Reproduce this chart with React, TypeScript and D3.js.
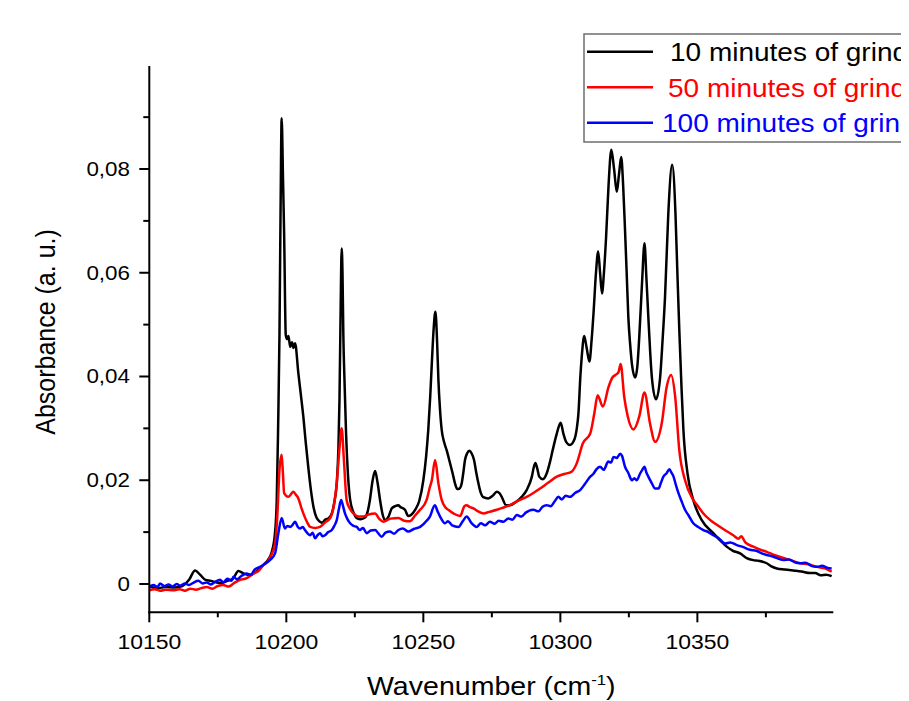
import React from 'react';
import * as d3 from 'd3';

// ---------- data ----------
const xTicksMajor = [10150, 10200, 10250, 10300, 10350];
const xTicksMinor = [10175, 10225, 10275, 10325, 10375];
const yTicksMajor = [0, 0.02, 0.04, 0.06, 0.08];
const yTicksMinor = [0.01, 0.03, 0.05, 0.07, 0.09];
const yTickLabels = ['0', '0,02', '0,04', '0,06', '0,08'];
const seriesNames = ['10 minutes of grinding', '50 minutes of grinding', '100 minutes of grinding'];
const seriesColors = ['#000000', '#ff0000', '#0000ff'];

const black10: [number, number][] = [
  [10150, -0.0005], [10153, -0.0008], [10156, -0.0006], [10159, -0.0007], [10162, -0.0004],
  [10164.5, 0.0008], [10166.7, 0.0026], [10168.5, 0.0018], [10170.5, 0.0008], [10172.5, 0.0006],
  [10174.6, 0.0003], [10176.5, 0.0002], [10178.5, 0.0006], [10180.5, 0.001], [10182.5, 0.0025],
  [10184.5, 0.002], [10186.8, 0.0017], [10189, 0.0024], [10191.6, 0.0037], [10193.5, 0.0048],
  [10194.7, 0.0062], [10195.8, 0.0095], [10196.5, 0.016], [10197.0, 0.03], [10197.5, 0.048],
  [10197.9, 0.072], [10198.3, 0.0898], [10198.8, 0.078], [10199.2, 0.0676], [10199.8, 0.048],
  [10200.3, 0.0472], [10200.8, 0.0478], [10201.4, 0.0457], [10202.1, 0.0466], [10202.6, 0.0455],
  [10203.2, 0.0464], [10204.4, 0.0406], [10205.3, 0.0365], [10206.2, 0.0323], [10207.1, 0.0272],
  [10208, 0.0226], [10209, 0.018], [10209.9, 0.0149], [10211, 0.0128], [10212.3, 0.012],
  [10213.2, 0.0118], [10214.1, 0.0124], [10215.5, 0.0127], [10216.6, 0.0136], [10217.6, 0.016],
  [10218.4, 0.0194], [10219, 0.026], [10219.4, 0.0355], [10219.8, 0.052], [10220.2, 0.0647],
  [10220.5, 0.06], [10220.8, 0.0483], [10221.3, 0.038], [10221.8, 0.029], [10222.5, 0.021],
  [10223.3, 0.0162], [10224.5, 0.0138], [10225.7, 0.0127], [10227.2, 0.0125], [10228.7, 0.0128],
  [10229.7, 0.014], [10230.5, 0.0162], [10231.5, 0.02], [10232.4, 0.0218], [10233.3, 0.0195],
  [10234.2, 0.0162], [10235.1, 0.0135], [10236, 0.0123], [10237.3, 0.013], [10238.5, 0.0146],
  [10239.7, 0.015], [10240.9, 0.0152], [10241.5, 0.0149], [10243.3, 0.0143], [10244.5, 0.0131],
  [10245.5, 0.0133], [10247, 0.0143], [10248.5, 0.016], [10250, 0.02], [10251, 0.0245],
  [10251.8, 0.0297], [10252.5, 0.036], [10253.1, 0.0426], [10253.8, 0.0495], [10254.4, 0.0525],
  [10255, 0.047], [10255.5, 0.0393], [10256.1, 0.0335], [10256.7, 0.0297], [10257.5, 0.0275],
  [10258.5, 0.0258], [10259.6, 0.0236], [10260.7, 0.0213], [10261.5, 0.0195], [10262.4, 0.0183],
  [10263.2, 0.0184], [10264, 0.0194], [10264.6, 0.0215], [10265.2, 0.0239], [10266, 0.0252],
  [10266.8, 0.0257], [10267.6, 0.0252], [10268.5, 0.0239], [10269.3, 0.0215], [10270.1, 0.0194],
  [10271, 0.0175], [10271.7, 0.0168], [10273.7, 0.0165], [10275.3, 0.017], [10276.8, 0.0178],
  [10277.8, 0.0175], [10278.6, 0.0168], [10280.2, 0.0152], [10281.6, 0.0152], [10283.5, 0.0157],
  [10285.9, 0.0168], [10287.7, 0.0181], [10289.6, 0.0207], [10290.3, 0.0225], [10290.9, 0.0233],
  [10291.6, 0.0222], [10292.3, 0.0207], [10293.6, 0.0202], [10295, 0.0213], [10296.2, 0.0235],
  [10297.2, 0.0258], [10298.7, 0.029], [10300.1, 0.0311], [10301.1, 0.029], [10302.1, 0.0274],
  [10303.5, 0.0268], [10305, 0.0277], [10306.0, 0.03], [10306.6, 0.0329], [10307.3, 0.04],
  [10307.8, 0.0438], [10308.7, 0.0478], [10309.6, 0.0455], [10310.6, 0.0429], [10311.4, 0.047],
  [10312.1, 0.0522], [10313.0, 0.06], [10313.8, 0.0641], [10314.5, 0.06], [10315.2, 0.056],
  [10315.9, 0.06], [10316.7, 0.067], [10317.6, 0.077], [10318.6, 0.0837], [10319.6, 0.08],
  [10320.6, 0.0756], [10321.4, 0.079], [10322.2, 0.0823], [10322.9, 0.077], [10323.6, 0.0682],
  [10324.2, 0.06], [10324.8, 0.0515], [10325.5, 0.046], [10326.1, 0.0425], [10327.3, 0.0398],
  [10328.1, 0.042], [10328.8, 0.0477], [10329.8, 0.058], [10330.7, 0.0657], [10331.4, 0.059],
  [10332.1, 0.0515], [10332.8, 0.0445], [10333.4, 0.0398], [10334.9, 0.0356], [10336.4, 0.0398],
  [10337.3, 0.047], [10338.2, 0.0554], [10339.4, 0.0715], [10340.8, 0.0808], [10342, 0.0715],
  [10342.7, 0.06], [10343.4, 0.049], [10344.2, 0.038], [10344.9, 0.0297], [10346.4, 0.0213],
  [10348.5, 0.0162], [10351.6, 0.0123], [10355.8, 0.0098], [10358.5, 0.0083], [10360.7, 0.0072],
  [10363, 0.0064], [10365.6, 0.0059], [10368, 0.005], [10370.4, 0.0046], [10372, 0.0045],
  [10375.3, 0.004], [10377, 0.0034], [10379, 0.003], [10382, 0.0028], [10385, 0.0026],
  [10388, 0.0024], [10391.1, 0.0021], [10393, 0.0021], [10395, 0.0017], [10397, 0.0018],
  [10399, 0.0015],
];

const red50: [number, number][] = [
  [10150, -0.0012], [10152, -0.001], [10154, -0.0013], [10156, -0.0011], [10158.8, -0.0012],
  [10161, -0.001], [10163, -0.0013], [10165, -0.0009], [10167, -0.0011], [10169, -0.0008],
  [10171, -0.0006], [10173, -0.0009], [10175, -0.0004], [10177, -0.0002], [10179, -0.0005],
  [10181, 0.0002], [10183.1, 0.0008], [10185, 0.001], [10188, 0.002], [10190, 0.0026],
  [10191.6, 0.0036], [10194, 0.005], [10195.9, 0.0078], [10196.7, 0.013], [10197.5, 0.022],
  [10198.3, 0.0249], [10198.8, 0.021], [10199.2, 0.0175], [10200.7, 0.0168], [10202, 0.0175],
  [10202.6, 0.0178], [10203.5, 0.0172], [10204.4, 0.0165], [10205.3, 0.015], [10206.2, 0.0136],
  [10207.5, 0.012], [10208.7, 0.011], [10210.5, 0.0108], [10212.3, 0.011], [10214, 0.0118],
  [10216, 0.0127], [10217.3, 0.015], [10218.4, 0.0194], [10219.3, 0.0255], [10220.2, 0.03],
  [10221, 0.024], [10222, 0.0162], [10223.2, 0.0145], [10224.5, 0.0136], [10226.3, 0.013],
  [10228.1, 0.013], [10230, 0.0134], [10232.4, 0.0136], [10234, 0.0125], [10235.4, 0.012],
  [10238, 0.0126], [10240.9, 0.0127], [10243, 0.0122], [10245.1, 0.0121], [10247, 0.0132],
  [10248.8, 0.0143], [10251.2, 0.0162], [10252.3, 0.0185], [10253.1, 0.02], [10254.3, 0.0239],
  [10255.5, 0.0194], [10256.7, 0.0162], [10258, 0.0148], [10259.1, 0.0143], [10261, 0.0136],
  [10263.4, 0.0131], [10265, 0.015], [10265.8, 0.0152], [10267, 0.0148], [10268.2, 0.0146],
  [10270, 0.014], [10271.9, 0.0136], [10274, 0.0139], [10276.8, 0.0143], [10279, 0.0147],
  [10281.6, 0.0152], [10284.5, 0.016], [10287.7, 0.0168], [10290, 0.0175], [10292.6, 0.0184],
  [10295.5, 0.0195], [10298.7, 0.0207], [10301.5, 0.0212], [10304.2, 0.0217], [10306, 0.0233],
  [10308.2, 0.0271], [10310.9, 0.029], [10312.4, 0.0329], [10313.6, 0.0364], [10315.5, 0.0342],
  [10317.6, 0.038], [10319, 0.0398], [10320.1, 0.0403], [10321.2, 0.0408], [10322, 0.0424],
  [10323.3, 0.0361], [10324.6, 0.0323], [10326.7, 0.0298], [10328.8, 0.0323], [10330.7, 0.0369],
  [10332.7, 0.031], [10334.6, 0.0274], [10337, 0.031], [10338.8, 0.038], [10340.4, 0.0403],
  [10341.9, 0.0361], [10343.4, 0.0258], [10345.5, 0.02], [10348.5, 0.0162], [10350.5, 0.0148],
  [10352.2, 0.0136], [10354.5, 0.0124], [10357.1, 0.0114], [10360, 0.0104], [10363.1, 0.0094],
  [10365, 0.0087], [10366, 0.0092], [10367.5, 0.008], [10370.4, 0.0072], [10373, 0.0066],
  [10375.3, 0.0062], [10378, 0.0056], [10381.4, 0.005], [10384, 0.0046], [10387.5, 0.004],
  [10390.5, 0.0038], [10393.6, 0.0033], [10396.5, 0.003], [10399, 0.0024],
];

const blue100: [number, number][] = [
  [10150, -0.0005], [10151.5, -0.0002], [10153, -0.0006], [10153.9, 0.0001], [10155.5, -0.0004],
  [10157, -0.0001], [10158.5, -0.0005], [10160, 0.0], [10161.2, -0.0003], [10163, 0.0001],
  [10164.5, -0.0002], [10166, 0.0002], [10167.9, 0.0006], [10169.5, 0.0001], [10171, 0.0003],
  [10172.5, -0.0001], [10174, 0.0004], [10175.8, 0.0008], [10177, 0.0003], [10178.5, 0.001],
  [10180, 0.0006], [10180.7, 0.0014], [10182, 0.0009], [10183.5, 0.0015], [10185.5, 0.002],
  [10187, 0.0018], [10188.5, 0.0028], [10190.4, 0.0033], [10192, 0.0038], [10194, 0.0046],
  [10195.9, 0.0059], [10197.1, 0.0098], [10198.3, 0.0127], [10199.5, 0.0107], [10200.4, 0.0112],
  [10201.4, 0.011], [10202.3, 0.0114], [10203.2, 0.012], [10204.1, 0.0111], [10205, 0.0107],
  [10206, 0.011], [10206.8, 0.0104], [10207.7, 0.0098], [10208.7, 0.0094], [10209.6, 0.0099],
  [10210.5, 0.0088], [10211.4, 0.0094], [10212.3, 0.0098], [10213.2, 0.0092], [10214.1, 0.0094],
  [10215.3, 0.01], [10216.6, 0.0104], [10217.5, 0.0112], [10218.4, 0.0123], [10219.2, 0.0145],
  [10220, 0.0162], [10220.7, 0.015], [10221.4, 0.0136], [10222.3, 0.0125], [10223.3, 0.0117],
  [10224.5, 0.0112], [10225.7, 0.011], [10226.8, 0.0104], [10228, 0.0108], [10229.3, 0.0098],
  [10230.8, 0.0103], [10232.4, 0.0104], [10233.5, 0.0098], [10234.8, 0.0091], [10236.2, 0.0099],
  [10237.8, 0.0101], [10239.3, 0.0097], [10240.9, 0.0104], [10242.5, 0.0107], [10244.5, 0.0101],
  [10246.5, 0.0106], [10248.8, 0.011], [10250.5, 0.0118], [10252.4, 0.013], [10254.2, 0.0152],
  [10255.2, 0.014], [10256.1, 0.013], [10257.9, 0.0117], [10259, 0.0121], [10260.5, 0.0113],
  [10262.8, 0.011], [10264.5, 0.0122], [10265.8, 0.013], [10267.5, 0.0118], [10269.5, 0.011],
  [10271, 0.0117], [10272.5, 0.0113], [10274.3, 0.012], [10276, 0.0116], [10277.5, 0.0122],
  [10279.2, 0.012], [10281, 0.0126], [10282.5, 0.0124], [10284.1, 0.0133], [10285.8, 0.013],
  [10287.5, 0.0138], [10290.2, 0.0143], [10292, 0.014], [10293.5, 0.0149], [10295, 0.0152],
  [10296.5, 0.015], [10298, 0.016], [10299.3, 0.0168], [10300.5, 0.0163], [10302, 0.017],
  [10303.5, 0.0168], [10305.5, 0.0176], [10307.2, 0.0181], [10309, 0.0193], [10310.9, 0.0207],
  [10312, 0.0212], [10313.3, 0.0222], [10314.5, 0.0226], [10315.8, 0.022], [10317.5, 0.0236],
  [10318.5, 0.0234], [10319.4, 0.0245], [10320.6, 0.0243], [10321.8, 0.0251], [10322.5, 0.0247],
  [10323.6, 0.0226], [10324.8, 0.0214], [10326.1, 0.02], [10327, 0.0204], [10327.9, 0.02],
  [10329.1, 0.0213], [10329.9, 0.022], [10330.7, 0.0226], [10331.4, 0.0215], [10332.1, 0.0207],
  [10333.3, 0.0195], [10334.6, 0.0184], [10335.8, 0.0184], [10336.7, 0.0195], [10337.6, 0.0207],
  [10338.7, 0.0213], [10339.8, 0.0221], [10340.5, 0.0215], [10341.3, 0.0207], [10342.2, 0.019],
  [10343.1, 0.0175], [10344.2, 0.016], [10345.5, 0.0143], [10346.8, 0.0132], [10348.5, 0.0117],
  [10350.3, 0.011], [10352.2, 0.0104], [10354, 0.01], [10355.8, 0.0094], [10357.8, 0.0088],
  [10360.1, 0.0078], [10362, 0.008], [10364.4, 0.0075], [10366.8, 0.0071], [10369.2, 0.0066],
  [10371.5, 0.0064], [10373.5, 0.0059], [10375.3, 0.0056], [10377.5, 0.0053], [10379.5, 0.0049],
  [10381.4, 0.0046], [10383.5, 0.0047], [10385.5, 0.0042], [10387.5, 0.004], [10389.5, 0.0041],
  [10391.5, 0.0035], [10393.6, 0.0033], [10395.5, 0.0035], [10397.5, 0.0031], [10399, 0.003],
];

const seriesData = [black10, red50, blue100];

// ---------- layout ----------
const W = 909;
const H = 701;
const PL = 149.3;
const PR = 833.3;
const PT = 66;
const PB = 612.3;
const STRETCH = 1.12;
const FONT = 'Arial, "Liberation Sans", sans-serif';

export default function App() {
  const x = d3.scaleLinear().domain([10150, 10399.6]).range([PL, PR]);
  const y = d3.scaleLinear().domain([-0.00546, 0.09986]).range([PB, PT]);
  const line = d3
    .line<[number, number]>()
    .x((d) => x(d[0]))
    .y((d) => y(d[1]))
    .curve(d3.curveMonotoneX);

  const legendRows = [51.7, 87.3, 122.7];
  const legendTextX = [670, 668, 662];

  return (
    <div style={{ position: 'absolute', left: 0, top: 0 }}>
      <svg width={W} height={H} style={{ display: 'block', background: '#fff' }} fontFamily={FONT}>
        <defs>
          <clipPath id="plotclip">
            <rect x={PL} y={PT - 40} width={PR - PL + 2} height={PB - PT + 40} />
          </clipPath>
          <clipPath id="legclip">
            <rect x={0} y={0} width={901} height={H} />
          </clipPath>
        </defs>

        {/* series */}
        <g clipPath="url(#plotclip)">
          {seriesData.map((s, i) => (
            <path
              key={i}
              d={line(s) || ''}
              fill="none"
              stroke={seriesColors[i]}
              strokeWidth={2.5}
              strokeLinejoin="round"
            />
          ))}
        </g>

        {/* axes */}
        <line x1={PL} x2={PL} y1={PT} y2={PB + 1} stroke="#000" strokeWidth={2} />
        <line x1={PL - 1} x2={PR} y1={PB} y2={PB} stroke="#000" strokeWidth={2} />

        {/* x ticks */}
        {xTicksMajor.map((t) => (
          <g key={'xM' + t}>
            <line x1={x(t)} x2={x(t)} y1={PB} y2={PB + 10} stroke="#000" strokeWidth={2} />
            <text
              transform={`translate(${x(t)},649) scale(${STRETCH},1)`}
              textAnchor="middle"
              fontSize={20.5}
              fill="#000"
            >
              {t}
            </text>
          </g>
        ))}
        {xTicksMinor.map((t) => (
          <line key={'xm' + t} x1={x(t)} x2={x(t)} y1={PB} y2={PB + 5} stroke="#000" strokeWidth={2} />
        ))}

        {/* y ticks */}
        {yTicksMajor.map((t, i) => (
          <g key={'yM' + t}>
            <line x1={PL - 10} x2={PL} y1={y(t)} y2={y(t)} stroke="#000" strokeWidth={2} />
            <text
              transform={`translate(130,${y(t) + 7}) scale(${STRETCH},1)`}
              textAnchor="end"
              fontSize={20}
              fill="#000"
            >
              {yTickLabels[i]}
            </text>
          </g>
        ))}
        {yTicksMinor.map((t) => (
          <line key={'ym' + t} x1={PL - 6} x2={PL} y1={y(t)} y2={y(t)} stroke="#000" strokeWidth={2} />
        ))}

        {/* axis titles */}
        <text
          transform={`translate(${(PL + PR) / 2},695) scale(${STRETCH},1)`}
          textAnchor="middle"
          fontSize={25.5}
          fill="#000"
        >
          Wavenumber (cm
          <tspan fontSize={15} dy={-10}>-1</tspan>
          <tspan dy={10}>)</tspan>
        </text>
        <text
          transform={`translate(55,332) scale(${STRETCH},1) rotate(-90)`}
          textAnchor="middle"
          fontSize={25}
          fill="#000"
        >
          Absorbance (a. u.)
        </text>

        {/* legend */}
        <g clipPath="url(#legclip)">
          <rect x={584} y={34} width={400} height={108} fill="#fff" stroke="#6e6e6e" strokeWidth={1.5} />
          {seriesNames.map((n, i) => (
            <g key={n}>
              <line
                x1={587}
                x2={653}
                y1={legendRows[i]}
                y2={legendRows[i]}
                stroke={seriesColors[i]}
                strokeWidth={2.5}
              />
              <text
                transform={`translate(${legendTextX[i]},${legendRows[i] + 9.5}) scale(${STRETCH},1)`}
                fontSize={25}
                fill={seriesColors[i]}
              >
                {n}
              </text>
            </g>
          ))}
        </g>
      </svg>
    </div>
  );
}
